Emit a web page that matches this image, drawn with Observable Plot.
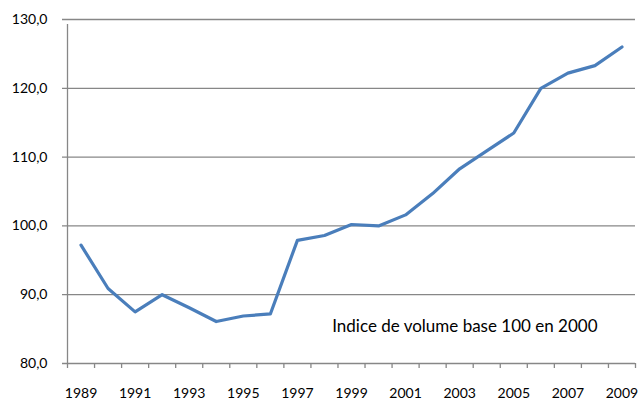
<!DOCTYPE html>
<html>
<head>
<meta charset="utf-8">
<script src="https://cdn.jsdelivr.net/npm/d3@7"></script>
<script src="https://cdn.jsdelivr.net/npm/@observablehq/plot@0.6"></script>
<style>
  html, body { margin: 0; padding: 0; background: #fff; }
  #chart svg { display: block; }
</style>
</head>
<body>
<div id="chart"></div>
<script>
const years = [1989, 1990, 1991, 1992, 1993, 1994, 1995, 1996, 1997, 1998, 1999,
               2000, 2001, 2002, 2003, 2004, 2005, 2006, 2007, 2008, 2009];
const values = [97.2, 90.9, 87.5, 90.0, 88.1, 86.1, 86.9, 87.2, 97.9, 98.6, 100.2,
                100.0, 101.6, 104.7, 108.3, 110.9, 113.5, 120.0, 122.2, 123.3, 126.0];
const xTickLabels = [1989, 1991, 1993, 1995, 1997, 1999, 2001, 2003, 2005, 2007, 2009];
const yTicks = [80, 90, 100, 110, 120, 130];
const note = ["Indice de volume base 100 en 2000"];

const data = years.map((y, i) => ({year: y, value: values[i]}));
// category boundaries (Excel-style ticks between categories)
const bounds = years.map(y => y - 0.5).concat([years[years.length - 1] + 0.5]);

const gray = "#878787";
const font = "Lato, 'Open Sans', sans-serif";

const chart = Plot.plot({
  width: 639,
  height: 401,
  marginLeft: 67,
  marginRight: 4,
  marginTop: 19,
  marginBottom: 38,
  style: {fontFamily: font, fontSize: "14px", color: "#000", background: "#fff"},
  x: {domain: [bounds[0], bounds[bounds.length - 1]]},
  y: {domain: [80, 130]},
  marks: [
    Plot.ruleY(yTicks, {stroke: gray, strokeWidth: 1.3, x1: bounds[0], x2: bounds[bounds.length - 1], insetLeft: -5}),
    Plot.ruleX([bounds[0]], {stroke: gray, strokeWidth: 1.3, y1: 80, y2: 130, insetBottom: -5}),
    Plot.axisX({ticks: bounds, tickFormat: () => "", tickSize: 5, stroke: gray, strokeWidth: 1.3, label: null}),
    Plot.axisX({ticks: xTickLabels, tickFormat: d => String(d), tickSize: 0, tickPadding: 25, label: null, fill: "#000", fontSize: 14}),
    Plot.axisY({ticks: yTicks, tickFormat: d => d.toFixed(1).replace(".", ","), tickSize: 0, tickPadding: 20, label: null, fill: "#000", fontSize: 14}),
    Plot.line(data, {x: "year", y: "value", stroke: "#4A7EBB", strokeWidth: 3.2, strokeLinejoin: "round", strokeLinecap: "round"}),
    Plot.text(note, {text: d => d, frameAnchor: "bottom-right", textAnchor: "end", lineAnchor: "middle", dx: -38, dy: -37, fontSize: 17, fill: "#000"})
  ]
});
document.getElementById("chart").appendChild(chart);
</script>
</body>
</html>
